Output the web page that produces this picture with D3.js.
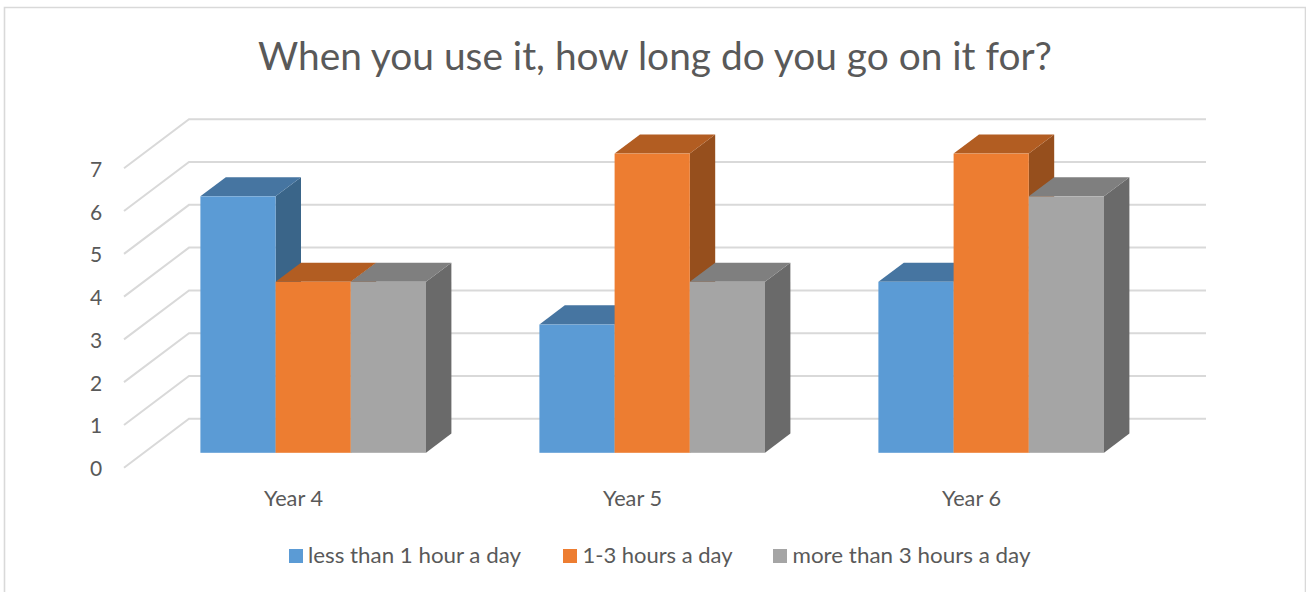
<!DOCTYPE html>
<html>
<head>
<meta charset="utf-8">
<script src="https://cdn.jsdelivr.net/npm/d3@7"></script>
<style>
html,body{margin:0;padding:0;background:#fff;overflow:hidden}
svg{display:block}
text{font-family:Lato,"Open Sans",sans-serif;fill:#595959}
</style>
</head>
<body>
<svg id="chart" width="1306" height="592"></svg>
<script>
const titleText = "When you use it, how long do you go on it for?";
const categories = ["Year 4", "Year 5", "Year 6"];
const seriesNames = ["less than 1 hour a day", "1-3 hours a day", "more than 3 hours a day"];
const lessThanOne = [6, 3, 4];
const oneToThree = [4, 7, 7];
const moreThanThree = [4, 4, 6];
const yTicks = [0, 1, 2, 3, 4, 5, 6, 7];
const seriesValues = [lessThanOne, oneToThree, moreThanThree];

const frontColors = ["#5b9bd5", "#ed7d31", "#a5a5a5"];
const topColors = ["#4675a1", "#b25d22", "#7f7f7f"];
const sideColors = ["#3a6589", "#964f1d", "#6a6a6a"];

const svg = d3.select("#chart");

// frame
svg.append("path").attr("d", "M4.5,592V7.5H1305.5V592")
  .attr("fill", "none").attr("stroke", "#d9d9d9").attr("stroke-width", 1.6);

// title
svg.append("text").attr("x", 655).attr("y", 70).attr("text-anchor", "middle")
  .attr("font-size", 39).attr("textLength", 794).attr("lengthAdjust", "spacingAndGlyphs")
  .text(titleText);

// 3D projection scales
const depthX = 65, depthY = -49;             // wall depth, front edge to back edge
const barDX = 25.4, barDY = -19.2;           // bar depth
const yFront = d3.scaleLinear().domain([0, 7]).range([467.7, 168.3]);
const yBack = d3.scaleLinear().domain([0, 7]).range([418.7, 119.3]);
const yBar = d3.scaleLinear().domain([0, 7]).range([452.8, 153.6]);
const x0 = d3.scaleBand().domain(categories).range([124, 1141]);
const barGroupWidth = 225.6;
const barOffset = 76.4;
const x1 = d3.scaleBand().domain(d3.range(seriesNames.length)).range([0, barGroupWidth]);

// gridlines
const grid = svg.append("g").attr("fill", "none").attr("stroke", "#d9d9d9").attr("stroke-width", 2);
yTicks.forEach(t => {
  grid.append("path").attr("d", d3.line()([[124, yFront(t)], [124 + depthX, yBack(t)], [1206, yBack(t)]]));
});

// axis labels
svg.append("g").selectAll("text").data(yTicks).join("text")
  .attr("x", 96).attr("y", d => yFront(d) + 8.5).attr("text-anchor", "middle")
  .attr("font-size", 21).text(d => d);

// bars: left to right, each one covering its left neighbour's side
categories.forEach((cat, ci) => {
  const gx = x0(cat) + barOffset;
  d3.range(seriesNames.length).forEach(si => {
    const v = seriesValues[si][ci];
    const l = gx + x1(si), r = l + x1.bandwidth();
    const t = yBar(v), b = yBar(0);
    const g = svg.append("g").attr("class", "bar");
    g.append("path").attr("fill", sideColors[si]).attr("d",
      d3.line()([[r, t], [r + barDX, t + barDY], [r + barDX, b + barDY], [r, b]]) + "Z");
    g.append("path").attr("fill", topColors[si]).attr("d",
      d3.line()([[l, t], [l + barDX, t + barDY], [r + barDX, t + barDY], [r, t]]) + "Z");
    g.append("rect").attr("fill", frontColors[si])
      .attr("x", l).attr("y", t).attr("width", r - l).attr("height", b - t);
  });
});

// category labels
svg.append("g").selectAll("text").data(categories).join("text")
  .attr("x", d => x0(d) + x0.bandwidth() / 2).attr("y", 506).attr("text-anchor", "middle")
  .attr("font-size", 21).attr("textLength", 59).attr("lengthAdjust", "spacingAndGlyphs").text(d => d);

// legend
const legendX = [289, 563, 773];
const legendTextWidth = [213, 150, 238];
const legend = svg.append("g").selectAll("g").data(seriesNames).join("g")
  .attr("transform", (d, i) => `translate(${legendX[i]},549)`);
legend.append("rect").attr("width", 14).attr("height", 14).attr("fill", (d, i) => frontColors[i]);
legend.append("text").attr("x", (d, i) => i === 0 ? 19 : 19.5).attr("y", 14).attr("font-size", 22)
  .attr("textLength", (d, i) => legendTextWidth[i]).attr("lengthAdjust", "spacingAndGlyphs").text(d => d);
</script>
</body>
</html>
